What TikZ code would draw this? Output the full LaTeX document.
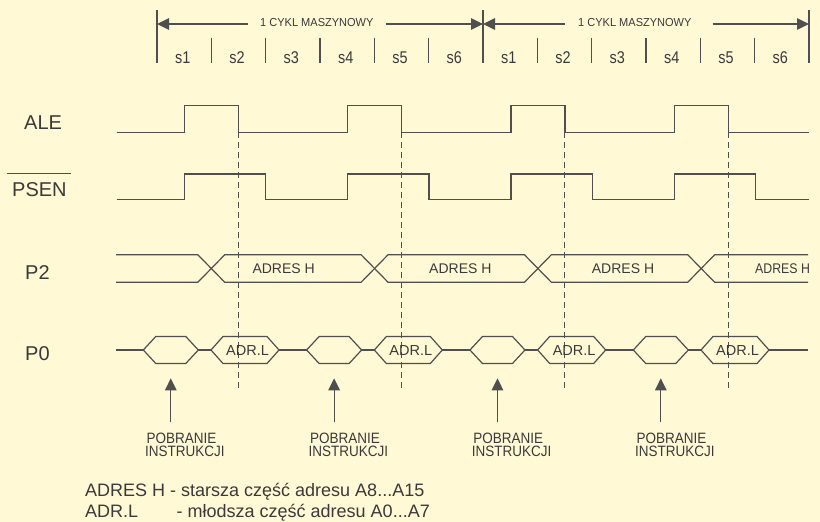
\documentclass[tikz,border=0pt]{standalone}
\usepackage{fontspec}
\usepackage{graphicx}
\setmainfont{Liberation Sans}
\newfontfamily\condfont[FakeStretch=0.85]{Liberation Sans}
\newfontfamily\narrowfont[FakeStretch=0.9]{Liberation Sans}
\newfontfamily\cycfont[FakeStretch=0.95]{Liberation Sans}
\usetikzlibrary{arrows.meta,calc}
\definecolor{bg}{HTML}{FFF9D6}
\definecolor{ink}{HTML}{4F4F4F}
\definecolor{txt}{HTML}{3A3A3A}
\tikzset{
  sig/.style={draw=ink, line width=1.2pt, line join=miter},
  guide/.style={draw=ink, line width=1pt, dash pattern=on 6pt off 4pt},
  tickline/.style={draw=ink, line width=1.1pt},
  tri/.tip={Triangle[length=12pt,width=11.5pt]},
  siglbl/.style={inner sep=0pt, anchor=base west, text=txt, font=\fontsize{20}{24}\selectfont},
  buslbl/.style={inner sep=0pt, anchor=base west, text=txt, font=\fontsize{14}{16}\selectfont},
  adrlbl/.style={inner sep=0pt, anchor=base, text=txt, font=\fontsize{14.5}{16}\selectfont},
  statelbl/.style={inner sep=0pt, anchor=base, text=txt, font=\condfont\fontsize{17}{20}\selectfont},
  cyclbl/.style={inner sep=0pt, anchor=base west, text=txt, font=\cycfont\fontsize{11.6}{13}\selectfont},
  poblbl/.style={inner sep=0pt, anchor=base west, text=txt, font=\narrowfont\fontsize{15}{16}\selectfont},
  legend/.style={inner sep=0pt, anchor=base west, text=txt, font=\fontsize{18}{20}\selectfont},
}
\begin{document}
\begin{tikzpicture}[x=1pt,y=-1pt]
\fill[bg] (0,0) rectangle (820,522);
\useasboundingbox (0,0) rectangle (820,522);

% ---- top scale ----
\foreach \j in {0,6,12} \draw[tickline] ({157+54.333*\j},10) -- ({157+54.333*\j},63.3);
\foreach \j in {1,2,3,4,5,7,8,9,10,11} \draw[tickline] ({157+54.333*\j},37.7) -- ({157+54.333*\j},63.3);
\foreach \i [evaluate=\i as \n using {int(mod(\i,6)+1)}] in {0,...,11}
  \node[statelbl] (s\i) at ({157+54.333*(\i+0.5)-1.5},63.3) {s\n};
\coordinate (b0) at (157,24);
\coordinate (b1) at (483,24);
\coordinate (b2) at (809,24);
\node[cyclbl] (cyc1) at (260,26.7) {1 CYKL MASZYNOWY};
\node[cyclbl] (cyc2) at (578,26.7) {1 CYKL MASZYNOWY};
\draw[ink, line width=1.1pt, {tri}-] (b0) -- ($(b0 -| cyc1.west)+(-12,0)$);
\draw[ink, line width=1.1pt, -{tri}] ($(b1 -| cyc1.east)+(12,0)$) -- (b1);
\draw[ink, line width=1.1pt, {tri}-] (b1) -- ($(b1 -| cyc2.west)+(-13,0)$);
\draw[ink, line width=1.1pt, -{tri}] ($(b2 -| cyc2.east)+(21,0)$) -- (b2);

% ---- signal labels ----
\node[siglbl] (ale) at (24,129) {ALE};
\node[siglbl] (psen) at (12,196.7) {PSEN};
\draw[ink, line width=1.2pt] ($(psen.north west)+(-5.5,-8.7)$) -- ($(psen.north east)+(4,-8.7)$);
\node[siglbl] (p2) at (25,279) {P2};
\node[siglbl] (p0) at (25,360) {P0};

% ---- ALE ----
\draw[sig] (116.7,132.3)
  foreach \k in {0,1,2,3} {
    -- ({184.3+163.333*\k},132.3) -- ({184.3+163.333*\k},105.3)
    -- ({238.3+163.333*\k},105.3) -- ({238.3+163.333*\k},132.3)
  } -- (809,132.3);

% ---- PSEN ----
\draw[sig] (116.7,199.3)
  foreach \k in {0,1,2,3} {
    -- ({184.3+163.333*\k},199.3) -- ({184.3+163.333*\k},174)
    -- ({265.7+163.333*\k},174) -- ({265.7+163.333*\k},199.3)
  } -- (809,199.3);

% ---- guides ----
\foreach \k in {0,1,2,3}
  \draw[guide] ({238.3+163.333*\k},132.3) -- ({238.3+163.333*\k},390);

% ---- P2 bus ----
\draw[sig] (116,254.7) -- (197.8,254.7) -- (224.8,282.3) -- (361.1,282.3) -- (388.1,254.7)
  -- (524.4,254.7) -- (551.4,282.3) -- (687.7,282.3) -- (714.7,254.7) -- (808,254.7);
\draw[sig] (116,282.3) -- (197.8,282.3) -- (224.8,254.7) -- (361.1,254.7) -- (388.1,282.3)
  -- (524.4,282.3) -- (551.4,254.7) -- (687.7,254.7) -- (714.7,282.3) -- (808,282.3);
\node[buslbl] (ah1) at (252.3,273.3) {ADRES H};
\node[buslbl] (ah2) at (429,273.3) {ADRES H};
\node[buslbl] (ah3) at (591.7,273.3) {ADRES H};
\node[buslbl] (ah4) at (755,273.3) {\scalebox{0.88}[1]{ADRES H}};

% ---- P0 bus ----
\draw[sig] (116,350) -- (143.3,350);
\foreach \k in {0,1,2,3} {
  \pgfmathsetmacro\L{143.3+163.333*\k}
  \pgfmathsetmacro\A{211+163.333*\k}
  \draw[sig] (\L,350) -- (\L+12.5,336.5) -- (\L+42.5,336.5) -- (\L+55,350)
     -- (\L+42.5,363.5) -- (\L+12.5,363.5) -- cycle;
  \draw[sig] (\L+55,350) -- (\A,350);
  \draw[sig] (\A,350) -- (\A+12,336.5) -- (\A+56,336.5) -- (\A+68,350)
     -- (\A+56,363.5) -- (\A+12,363.5) -- cycle;
  \node[adrlbl] (adr\k) at (\A+36.5,355) {ADR.L};
}
\foreach \k in {0,1,2} \draw[sig] ({279+163.333*\k},350) -- ({306.6+163.333*\k},350);
\draw[sig] (768.3,350) -- (808,350);

% ---- fetch arrows ----
\foreach \k in {0,1,2,3} {
  \coordinate (tail\k) at ({170.8+163.333*\k},422.3);
  \coordinate (tip\k) at ({170.8+163.333*\k},378.3);
  \draw[ink, line width=1.2pt, -{tri}] (tail\k) -- (tip\k);
  \node[poblbl] (pobA\k) at ({146.5+163.333*\k},443.5) {POBRANIE};
  \node[poblbl] (pobB\k) at ({145+163.333*\k},456.3) {INSTRUKCJI};
}

% ---- legend ----
\node[legend] (leg1) at (85,496) {ADRES H - starsza część adresu A8...A15};
\node[legend] (leg2a) at (85,517.3) {ADR.L};
\node[legend] (leg2b) at (176.5,517.3) {- młodsza część adresu A0...A7};
\end{tikzpicture}
\end{document}
